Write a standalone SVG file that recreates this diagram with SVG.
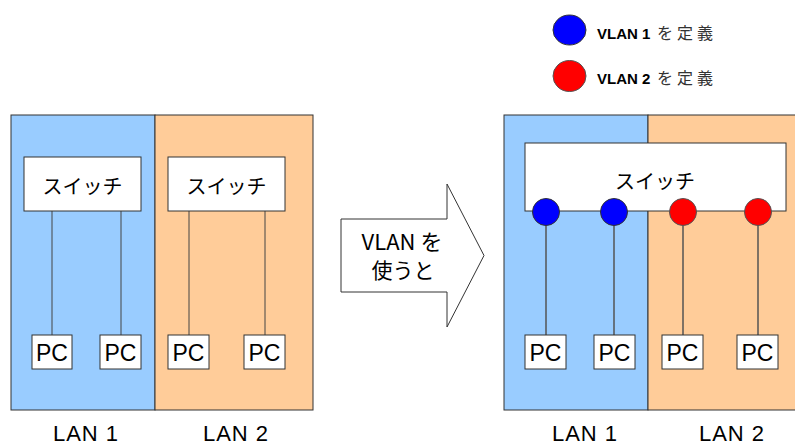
<svg xmlns="http://www.w3.org/2000/svg" width="795" height="443" viewBox="0 0 795 443">
<style>
text{font-family:"Liberation Sans","Noto Sans CJK JP",sans-serif;fill:#000}
.jp{font-family:"Noto Sans CJK JP","Liberation Sans",sans-serif}
.blue{fill:#99CCFF;stroke:#333;stroke-width:1}
.orange{fill:#FFCC99;stroke:#333;stroke-width:1}
.box{fill:#fff;stroke:#333;stroke-width:1}
.sw{font-size:20px;text-anchor:middle}
.pc{font-size:23px;text-anchor:middle}
.lan{font-size:22px;text-anchor:middle;letter-spacing:1px}
.wire{stroke:#444;stroke-width:1;fill:none}
.wire2{stroke:#555;stroke-width:1.5;fill:none}
.p1{fill:#0000FF;stroke:#333;stroke-width:1}
.p2{fill:#FF0000;stroke:#555;stroke-width:1}
.leg{font-size:15px;font-weight:bold}
.legjp{font-family:"Noto Sans CJK JP","Liberation Sans",sans-serif;font-weight:normal;fill:#333;font-size:16px;letter-spacing:4px}
</style>

<!-- Legend -->
<g id="legend">
  <ellipse class="p1" cx="569.5" cy="30" rx="16.5" ry="15"/>
  <text class="leg" x="597" y="39">VLAN 1 <tspan class="legjp" x="657">を定義</tspan></text>
  <ellipse class="p2" cx="569.5" cy="76" rx="16.5" ry="15.5"/>
  <text class="leg" x="597" y="84">VLAN 2 <tspan class="legjp" x="657">を定義</tspan></text>
</g>

<!-- Left panels -->
<g id="left-lan1"><rect class="blue" x="11" y="115" width="144" height="295"/></g>
<g id="left-lan2"><rect class="orange" x="155" y="115" width="158" height="295"/></g>

<!-- Right panels -->
<g id="right-lan1"><rect class="blue" x="504" y="115" width="144" height="295"/></g>
<g id="right-lan2"><rect class="orange" x="648" y="115" width="152" height="295"/></g>

<!-- Connectors -->
<g id="connectors">
  <line class="wire" x1="52" y1="211" x2="52" y2="335"/>
  <line class="wire" x1="121" y1="211" x2="121" y2="335"/>
  <line class="wire" x1="189" y1="211" x2="189" y2="335"/>
  <line class="wire" x1="265" y1="211" x2="265" y2="335"/>
  <line class="wire2" x1="546" y1="212" x2="546" y2="335"/>
  <line class="wire2" x1="614" y1="212" x2="614" y2="335"/>
  <line class="wire2" x1="683" y1="212" x2="683" y2="335"/>
  <line class="wire2" x1="758" y1="212" x2="758" y2="335"/>
</g>

<!-- Left switches -->
<g id="switch-l1">
  <rect class="box" x="24" y="157" width="117" height="54"/>
  <text class="sw jp" x="82.5" y="194">スイッチ</text>
</g>
<g id="switch-l2">
  <rect class="box" x="168" y="157" width="117" height="54"/>
  <text class="sw jp" x="226.5" y="194">スイッチ</text>
</g>

<!-- Left PCs -->
<g id="pc-l1"><rect class="box" x="32" y="335" width="40" height="34"/><text class="pc" x="52" y="361">PC</text></g>
<g id="pc-l2"><rect class="box" x="100" y="335" width="41" height="34"/><text class="pc" x="120.5" y="361">PC</text></g>
<g id="pc-l3"><rect class="box" x="168" y="335" width="41" height="34"/><text class="pc" x="188.5" y="361">PC</text></g>
<g id="pc-l4"><rect class="box" x="244" y="335" width="41" height="34"/><text class="pc" x="264.5" y="361">PC</text></g>

<!-- Arrow -->
<g id="arrow">
  <polygon points="341,219 447,219 447,184 484,255.5 447,327 447,292 341,292" fill="#fff" stroke="#333" stroke-width="1"/>
  <text class="jp" x="402" y="250" style="font-size:22px;text-anchor:middle">VLAN を</text>
  <text class="jp" x="403" y="278" style="font-size:21px;text-anchor:middle">使うと</text>
</g>

<!-- Right switch -->
<g id="switch-r">
  <rect class="box" x="525" y="143" width="261" height="68"/>
  <text class="sw jp" x="655" y="189">スイッチ</text>
</g>

<!-- Ports -->
<g id="ports">
  <circle class="p1" cx="546" cy="212" r="13.5"/>
  <circle class="p1" cx="614" cy="212" r="13.5"/>
  <circle class="p2" cx="683" cy="212" r="13.5"/>
  <circle class="p2" cx="758" cy="212" r="13.5"/>
</g>

<!-- Right PCs -->
<g id="pc-r1"><rect class="box" x="525" y="335" width="41" height="34"/><text class="pc" x="545.5" y="361">PC</text></g>
<g id="pc-r2"><rect class="box" x="594" y="335" width="41" height="34"/><text class="pc" x="614.5" y="361">PC</text></g>
<g id="pc-r3"><rect class="box" x="662" y="335" width="41" height="34"/><text class="pc" x="682.5" y="361">PC</text></g>
<g id="pc-r4"><rect class="box" x="737" y="335" width="41" height="34"/><text class="pc" x="757.5" y="361">PC</text></g>

<!-- LAN labels -->
<g id="labels">
  <text class="lan" x="86" y="441">LAN 1</text>
  <text class="lan" x="236" y="441">LAN 2</text>
  <text class="lan" x="585" y="441">LAN 1</text>
  <text class="lan" x="732" y="441">LAN 2</text>
</g>
</svg>
